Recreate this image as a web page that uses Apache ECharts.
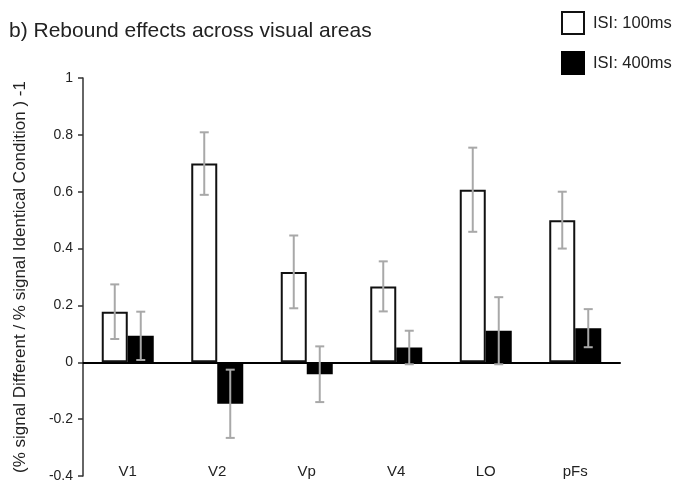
<!DOCTYPE html>
<html>
<head>
<meta charset="utf-8">
<script src="https://cdn.jsdelivr.net/npm/echarts@6/dist/echarts.min.js"></script>
<style>html,body{margin:0;padding:0;background:#fff}#c{width:675px;height:484px}</style>
</head>
<body>
<div id="c"></div>
<script>
const categories = ['V1', 'V2', 'Vp', 'V4', 'LO', 'pFs'];
const isi100 = [0.178, 0.699, 0.318, 0.267, 0.607, 0.500];
const isi100Err = [0.096, 0.110, 0.128, 0.088, 0.148, 0.100];
const isi400 = [0.093, -0.146, -0.042, 0.052, 0.111, 0.120];
const isi400Err = [0.085, 0.120, 0.098, 0.059, 0.118, 0.067];
const seriesNames = ['ISI: 100ms', 'ISI: 400ms'];
const yTicks = { min: -0.4, max: 1, interval: 0.2 };

const BAR_W = 26;
const FONT = 'Liberation Sans, Arial, Helvetica, sans-serif';

function errRender(offset) {
  return function (params, api) {
    const i = api.value(0), v = api.value(1), e = api.value(2);
    const top = api.coord([i, v + e]);
    const bot = api.coord([i, v - e]);
    const x = top[0] + offset;
    const cap = 4.5;
    const style = { stroke: '#a8a8a8', lineWidth: 2 };
    return {
      type: 'group',
      children: [
        { type: 'line', shape: { x1: x, y1: top[1], x2: x, y2: bot[1] }, style },
        { type: 'line', shape: { x1: x - cap, y1: top[1], x2: x + cap, y2: top[1] }, style },
        { type: 'line', shape: { x1: x - cap, y1: bot[1], x2: x + cap, y2: bot[1] }, style }
      ]
    };
  };
}

const chart = echarts.init(document.getElementById('c'), null, { renderer: 'canvas' });
chart.setOption({
  animation: false,
  backgroundColor: '#fff',
  textStyle: { fontFamily: FONT },
  title: {
    text: 'b) Rebound effects across visual areas',
    left: 4, top: 16,
    textStyle: { fontFamily: FONT, fontSize: 21, fontWeight: 'normal', color: '#222' }
  },
  legend: {
    orient: 'vertical', left: 556, top: 6,
    itemWidth: 22, itemHeight: 22, itemGap: 16,
    icon: 'rect',
    textStyle: { fontFamily: FONT, fontSize: 16.5, color: '#222', padding: [0, 0, 0, 4] },
    data: [
      { name: seriesNames[0], itemStyle: { color: '#fff', borderColor: '#111', borderWidth: 2 } },
      { name: seriesNames[1], itemStyle: { color: '#000', borderColor: '#000', borderWidth: 2 } }
    ]
  },
  grid: { left: 83, top: 78, right: 55, bottom: 8, containLabel: false },
  xAxis: [
    {
      type: 'category', data: categories, boundaryGap: true,
      axisLine: { onZero: true, lineStyle: { color: '#000', width: 2 } },
      axisTick: { show: false }, axisLabel: { show: false }, splitLine: { show: false }
    },
    {
      type: 'category', data: categories, position: 'bottom', boundaryGap: true,
      axisLine: { show: false, onZero: false }, axisTick: { show: false },
      axisLabel: { margin: -12, fontSize: 15, color: '#222', fontFamily: FONT },
      splitLine: { show: false }
    }
  ],
  yAxis: {
    type: 'value', min: yTicks.min, max: yTicks.max, interval: yTicks.interval,
    name: '(% signal Different / % signal Identical Condition ) -1',
    nameLocation: 'middle', nameGap: 54, nameRotate: 90,
    nameTextStyle: { fontFamily: FONT, fontSize: 17, color: '#222' },
    axisLine: { show: true, lineStyle: { color: '#333', width: 1.5 } },
    axisTick: { show: true, length: 5, lineStyle: { color: '#333', width: 1.5 } },
    axisLabel: { margin: 10, fontSize: 14, color: '#222', fontFamily: FONT },
    splitLine: { show: false }
  },
  series: [
    {
      name: seriesNames[0], type: 'bar', xAxisIndex: 0, data: isi100,
      barWidth: BAR_W, barGap: '0%',
      itemStyle: { color: '#fff', borderColor: '#111', borderWidth: 2 },
      z: 2
    },
    {
      name: seriesNames[1], type: 'bar', xAxisIndex: 0, data: isi400,
      barWidth: BAR_W, barGap: '0%',
      itemStyle: { color: '#000', borderColor: '#000', borderWidth: 2 },
      z: 2
    },
    {
      type: 'custom', xAxisIndex: 0, z: 5, silent: true,
      data: isi100.map((v, i) => [i, v, isi100Err[i]]),
      renderItem: errRender(-BAR_W / 2)
    },
    {
      type: 'custom', xAxisIndex: 0, z: 5, silent: true,
      data: isi400.map((v, i) => [i, v, isi400Err[i]]),
      renderItem: errRender(BAR_W / 2)
    }
  ]
});
</script>
</body>
</html>
